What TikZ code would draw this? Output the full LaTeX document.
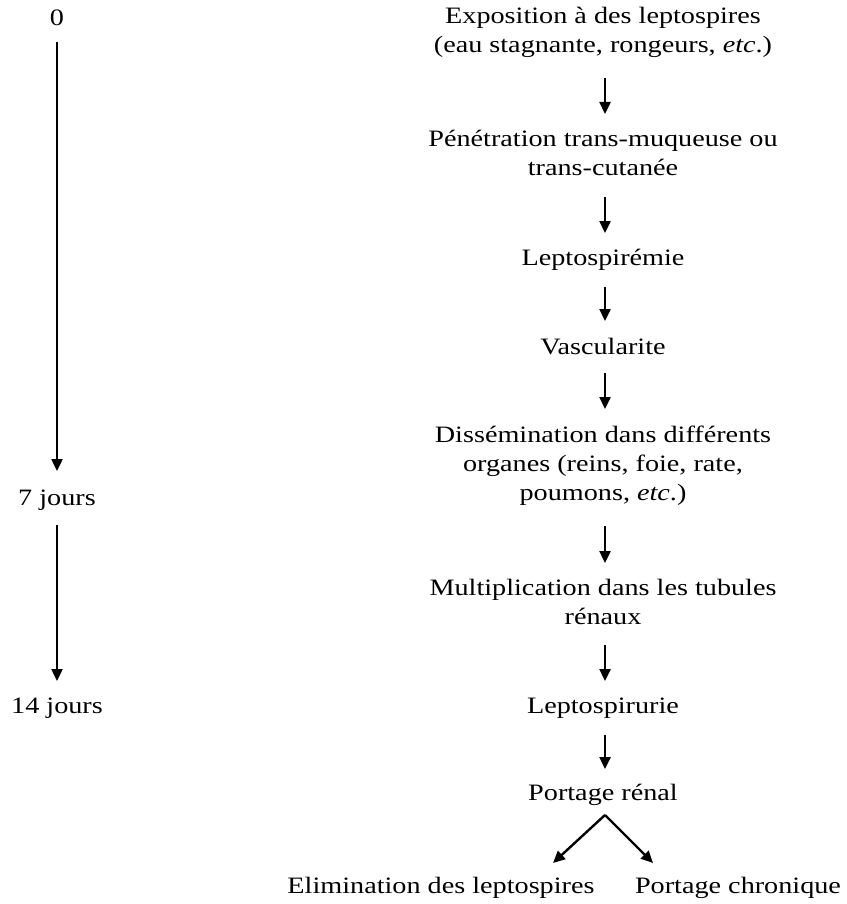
\documentclass[tikz,border=0pt]{standalone}
\usepackage{fontspec}
\setmainfont{Liberation Serif}[FakeStretch=1.2]
\usetikzlibrary{arrows.meta}
\begin{document}
\begin{tikzpicture}[x=1pt,y=-1pt,
  lbl/.style={inner sep=0pt, align=center, font=\fontsize{23.5}{29}\selectfont},
  arr/.style={line width=2.4pt, -{Triangle[width=11pt,length=12pt]}}]
\useasboundingbox (0,0) rectangle (846,904);
% time axis
\node[lbl] (t0) at (57,18) {0};
\node[lbl] (t7) at (57,500) {7 jours};
\node[lbl] (t14) at (57,708) {14 jours};
\coordinate (a1s) at (57,42);
\coordinate (a1e) at (57,471);
\coordinate (a2s) at (57,525);
\coordinate (a2e) at (57,681);
\draw[arr] (a1s) -- (a1e);
\draw[arr] (a2s) -- (a2e);
% flow
\node[lbl] (n1) at (603,32) {Exposition à des leptospires\\(eau stagnante, rongeurs, \textit{etc}.)};
\node[lbl] (n2) at (603,153) {Pénétration trans-muqueuse ou\\trans-cutanée};
\node[lbl] (n3) at (603,260) {Leptospirémie};
\node[lbl] (n4) at (603,347) {Vascularite};
\node[lbl] (n5) at (603,466) {Dissémination dans différents\\organes (reins, foie, rate,\\poumons, \textit{etc}.)};
\node[lbl] (n6) at (603,602) {Multiplication dans les tubules\\rénaux};
\node[lbl] (n7) at (603,708) {Leptospirurie};
\node[lbl] (n8) at (603,795) {Portage rénal};
\node[lbl] (n9) at (441,888) {Elimination des leptospires};
\node[lbl] (n10) at (738,888) {Portage chronique};
\coordinate (b1s) at (605,78);  \coordinate (b1e) at (605,114);
\coordinate (b2s) at (605,197); \coordinate (b2e) at (605,233);
\coordinate (b3s) at (605,287); \coordinate (b3e) at (605,321);
\coordinate (b4s) at (605,373); \coordinate (b4e) at (605,409);
\coordinate (b5s) at (605,526); \coordinate (b5e) at (605,563);
\coordinate (b6s) at (605,645); \coordinate (b6e) at (605,681);
\coordinate (b7s) at (605,735); \coordinate (b7e) at (605,769);
\draw[arr] (b1s) -- (b1e);
\draw[arr] (b2s) -- (b2e);
\draw[arr] (b3s) -- (b3e);
\draw[arr] (b4s) -- (b4e);
\draw[arr] (b5s) -- (b5e);
\draw[arr] (b6s) -- (b6e);
\draw[arr] (b7s) -- (b7e);
\coordinate (apex) at (605,815);
\coordinate (fl) at (553,863);
\coordinate (fr) at (653,863);
\draw[arr] (apex) -- (fl);
\draw[arr] (apex) -- (fr);
\end{tikzpicture}
\end{document}
